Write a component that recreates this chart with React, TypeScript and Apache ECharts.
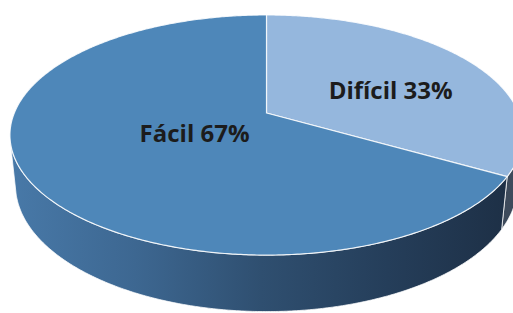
import React, { useEffect, useRef } from "react";
import * as echarts from "echarts";

// ---- data ----
const categories: string[] = ["Difícil", "Fácil"];
const values: number[] = [33.3, 66.7];

// ---- styles ----
const topColors = ["#95b7dd", "#4e87b9"];
const sideColors: any[] = [
  "#3d4a5b",
  {
    type: "linear",
    x: 10,
    y: 0,
    x2: 513,
    y2: 0,
    global: true,
    colorStops: [
      { offset: 0, color: "#4879a8" },
      { offset: 0.25, color: "#3d6791" },
      { offset: 0.5, color: "#2f4f70" },
      { offset: 0.75, color: "#253e5a" },
      { offset: 1, color: "#1d2f45" },
    ],
  },
];
const labelRadius = [0.6, 0.32];
const labelShift = [[0, 10], [0, 0]];

export default function App() {
  const ref = useRef<HTMLDivElement>(null);
  useEffect(() => {
    document.body.style.margin = "0";
    const chart = echarts.init(ref.current!, null, { renderer: "svg" });
    const total = values.reduce((a, b) => a + b, 0);
    const sinT = 0.46;
    const cosT = Math.sqrt(1 - sinT * sinT);
    const D = 4.84;
    const F = 1220.7;
    const H = 0.225;

    const renderItem = (params: any, api: any) => {
      const w = api.getWidth();
      const h = api.getHeight();
      const CX = w * 0.5195;
      const CY = h * 0.361;
      const proj = (x: number, y: number, z: number) => {
        const depth = y * cosT - z * sinT + D;
        const up = y * sinT + z * cosT;
        return [CX + (F * x) / depth, CY - (F * up) / depth];
      };
      const rim = (deg: number, z: number, r = 1) => {
        const t = (deg * Math.PI) / 180;
        return proj(r * Math.sin(t), r * Math.cos(t), z);
      };
      const idx = params.dataIndex;
      let before = 0;
      for (let i = 0; i < idx; i++) before += values[i];
      const start = (before / total) * 360;
      const end = ((before + api.value(0)) / total) * 360;

      const children: any[] = [];
      const visA = (Math.acos(-1 / (D * cosT)) * 180) / Math.PI;
      const visB = 360 - visA;
      const lo = Math.max(start, visA);
      const hi = Math.min(end, visB);
      if (lo < hi) {
        const pts: number[][] = [];
        const n = Math.max(2, Math.ceil((hi - lo) / 0.5));
        for (let k = 0; k <= n; k++) pts.push(rim(lo + ((hi - lo) * k) / n, 0));
        for (let k = n; k >= 0; k--) pts.push(rim(lo + ((hi - lo) * k) / n, -H));
        children.push({
          type: "polygon",
          shape: { points: pts },
          style: { fill: sideColors[idx], stroke: "rgba(255,255,255,0.75)", lineWidth: 1 },
          z2: 1,
        });
      }
      const tp: number[][] = [proj(0, 0, 0)];
      const m = Math.max(2, Math.ceil((end - start) / 0.5));
      for (let k = 0; k <= m; k++) tp.push(rim(start + ((end - start) * k) / m, 0));
      children.push({
        type: "polygon",
        shape: { points: tp },
        style: { fill: topColors[idx], stroke: "rgba(255,255,255,0.85)", lineWidth: 1.2 },
        z2: 2,
      });
      const mid = (start + end) / 2;
      const lp = rim(mid, 0, labelRadius[idx]);
      const pct = Math.round((api.value(0) / total) * 100);
      children.push({
        type: "text",
        x: lp[0] + labelShift[idx][0],
        y: lp[1] + labelShift[idx][1],
        z2: 10,
        style: {
          text: categories[idx] + " " + pct + "%",
          fill: "#1c1c1c",
          font: "bold 24px 'Open Sans'",
          align: "center",
          verticalAlign: "middle",
        },
      });
      return { type: "group", children };
    };

    chart.setOption({
      animation: false,
      series: [
        {
          type: "custom",
          coordinateSystem: "none",
          data: values,
          renderItem,
        },
      ],
    });
    return () => chart.dispose();
  }, []);
  return <div ref={ref} style={{ width: 513, height: 313 }} />;
}
